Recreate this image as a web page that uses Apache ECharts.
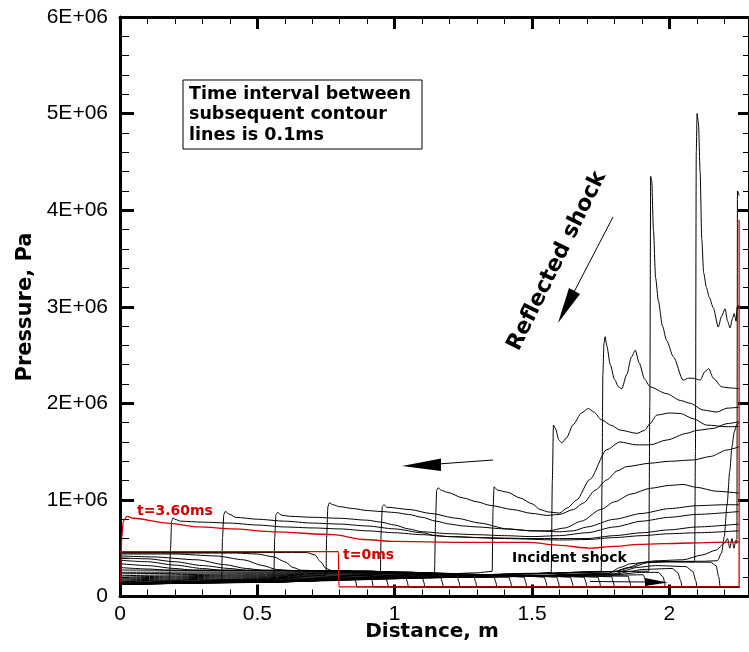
<!DOCTYPE html>
<html><head><meta charset="utf-8">
<script src="https://cdn.jsdelivr.net/npm/echarts@6/dist/echarts.min.js"></script>
<style>html,body{margin:0;padding:0;background:#fff}#c{width:749px;height:652px}</style>
</head><body><div id="c"></div><script>
// ---- tick labels ----
const xTickLabels = {0:'0',0.5:'0.5',1:'1',1.5:'1.5',2:'2'};
const yTickLabels = ['0','1E+06','2E+06','3E+06','4E+06','5E+06','6E+06'];

// ---- pressure profiles: [distance m, pressure in 1E+06 Pa], one per 0.1 ms ----
const t00 = [[0,0.465],[0.795,0.465],[0.797,0.1],[2.254,0.1],[2.254,0.57]];
const t01 = [[0,0.455],[0.68,0.455],[0.71,0.43],[0.73,0.36],[0.75,0.29],[0.77,0.27],[0.84,0.265],[0.852,0.23],[0.858,0.16],[0.862,0.1],[2.254,0.1]];
const t02 = [[0,0.45],[0.42,0.45],[0.5,0.44],[0.56,0.41],[0.6,0.36],[0.63,0.3],[0.66,0.272],[0.72,0.268],[0.9,0.25],[0.912,0.22],[0.918,0.16],[0.922,0.1],[2.254,0.1]];
const t03 = [[0,0.44],[0.2,0.44],[0.35,0.42],[0.45,0.38],[0.52,0.32],[0.57,0.28],[0.62,0.27],[0.93,0.245],[0.967,0.21],[0.973,0.15],[0.977,0.1],[2.254,0.1]];
const t04 = [[0,0.42],[0.12,0.41],[0.28,0.38],[0.38,0.33],[0.46,0.29],[0.52,0.272],[0.9,0.26],[1.0,0.235],[1.04,0.21],[1.046,0.15],[1.05,0.1],[2.254,0.1]];
const t05 = [[0,0.40],[0.1,0.39],[0.2,0.36],[0.3,0.32],[0.4,0.29],[0.46,0.272],[0.9,0.262],[1.05,0.235],[1.1,0.21],[1.106,0.15],[1.11,0.1],[2.254,0.1]];
const t06 = [[0,0.375],[0.1,0.36],[0.2,0.325],[0.3,0.29],[0.37,0.272],[0.9,0.262],[1.1,0.232],[1.167,0.205],[1.173,0.15],[1.177,0.1],[2.254,0.1]];
const t07 = [[0,0.34],[0.1,0.32],[0.2,0.29],[0.27,0.272],[0.9,0.262],[1.15,0.23],[1.228,0.205],[1.234,0.15],[1.238,0.1],[2.254,0.1]];
const t08 = [[0,0.30],[0.1,0.285],[0.18,0.272],[0.9,0.262],[1.2,0.228],[1.289,0.2],[1.295,0.15],[1.299,0.1],[2.254,0.1]];
const t09 = [[0,0.274],[0.5,0.27],[1.0,0.255],[1.28,0.225],[1.362,0.2],[1.368,0.15],[1.372,0.1],[2.254,0.1]];
const t10 = [[0,0.25],[0.4,0.255],[1.0,0.255],[1.33,0.222],[1.416,0.2],[1.422,0.15],[1.426,0.1],[2.254,0.1]];
const t11 = [[0,0.235],[0.5,0.245],[1.05,0.25],[1.38,0.22],[1.471,0.2],[1.477,0.15],[1.481,0.1],[2.254,0.1]];
const t12 = [[0,0.215],[0.5,0.235],[1.1,0.245],[1.45,0.218],[1.545,0.2],[1.551,0.15],[1.555,0.1],[2.254,0.1]];
const t13 = [[0,0.2],[0.5,0.225],[1.1,0.24],[1.5,0.215],[1.59,0.2],[1.596,0.15],[1.6,0.1],[2.254,0.1]];
const t14 = [[0,0.19],[0.5,0.215],[1.15,0.235],[1.55,0.212],[1.64,0.2],[1.646,0.15],[1.65,0.1],[2.254,0.1]];
const t15 = [[0,0.18],[0.5,0.205],[1.2,0.23],[1.6,0.21],[1.69,0.2],[1.696,0.15],[1.7,0.1],[2.254,0.1]];
const t16 = [[0,0.17],[0.5,0.195],[1.2,0.225],[1.65,0.21],[1.74,0.2],[1.746,0.15],[1.75,0.1],[2.254,0.1]];
const t17 = [[0,0.16],[0.5,0.185],[1.25,0.22],[1.7,0.21],[1.79,0.205],[1.796,0.15],[1.8,0.1],[2.254,0.1]];
const t18 = [[0,0.153],[0.5,0.178],[1.3,0.215],[1.76,0.212],[1.85,0.21],[1.856,0.15],[1.86,0.1],[2.254,0.1]];
const t19 = [[0,0.145],[0.5,0.17],[1.3,0.21],[1.8,0.22],[1.905,0.225],[1.915,0.15],[1.92,0.1],[2.254,0.1]];
const t20 = [[0,0.14],[0.5,0.163],[1.3,0.205],[1.8,0.225],[1.9,0.25],[1.96,0.25],[1.978,0.2],[1.983,0.14],[1.985,0.1],[2.254,0.1]];
const t21 = [[0,0.135],[0.5,0.158],[1.3,0.2],[1.8,0.23],[1.86,0.26],[1.9,0.28],[2.01,0.29],[2.03,0.25],[2.042,0.16],[2.046,0.1],[2.254,0.1]];
const t22 = [[0,0.13],[0.5,0.155],[1.3,0.2],[1.8,0.235],[1.84,0.27],[1.88,0.3],[1.95,0.32],[2.06,0.31],[2.085,0.26],[2.097,0.16],[2.1,0.1],[2.254,0.1]];
const t23 = [[0,0.128],[0.5,0.15],[1.3,0.2],[1.78,0.24],[1.82,0.3],[1.86,0.34],[1.93,0.36],[2.15,0.355],[2.17,0.32],[2.18,0.2],[2.185,0.1],[2.254,0.1]];
const t24 = [[0,0.125],[0.5,0.15],[1.0,0.19],[1.5,0.24],[1.8,0.26],[1.85,0.3],[1.9,0.35],[1.95,0.37],[2.05,0.38],[2.12,0.43],[2.17,0.48],[2.2,0.55],[2.212,0.6],[2.22,0.5],[2.228,0.6],[2.235,0.5],[2.242,0.58],[2.246,0.55],[2.248,4.2],[2.254,4.15]];
const wallRise = [[1.95,0.36],[2.12,0.365],[2.175,0.37],[2.19,0.45],[2.2,0.62],[2.21,0.95],[2.22,1.3],[2.228,1.55],[2.236,1.7],[2.245,1.78],[2.254,1.8]];
const t25 = [[0,0.125],[0.5,0.148],[1.0,0.19],[1.5,0.235],[1.8,0.255],[1.86,0.3],[1.92,0.35],[2.0,0.36],[2.092,0.36],[2.095,1.5],[2.098,4.6],[2.101,5.0],[2.106,4.9],[2.112,4.4],[2.118,3.7],[2.125,3.35],[2.135,3.2],[2.145,3.1],[2.16,2.99],[2.178,2.79],[2.19,2.9],[2.203,2.98],[2.212,2.85],[2.221,2.78],[2.23,2.88],[2.236,2.93],[2.243,2.85],[2.247,3.0],[2.254,3.02]];
const t26 = [[0,0.125],[0.5,0.147],[1.0,0.19],[1.5,0.235],[1.8,0.258],[1.925,0.262],[1.929,2.0],[1.932,4.35],[1.936,4.3],[1.942,3.8],[1.95,3.3],[1.96,3.06],[1.975,2.8],[1.99,2.65],[2.015,2.48],[2.05,2.24],[2.07,2.26],[2.088,2.26],[2.112,2.24],[2.13,2.33],[2.143,2.36],[2.16,2.26],[2.191,2.17],[2.22,2.16],[2.254,2.15]];
const t27 = [[0,0.125],[0.5,0.146],[1.0,0.19],[1.5,0.235],[1.752,0.26],[1.755,1.2],[1.758,2.3],[1.762,2.62],[1.766,2.69],[1.772,2.6],[1.785,2.4],[1.8,2.25],[1.815,2.17],[1.827,2.15],[1.845,2.3],[1.862,2.48],[1.876,2.55],[1.89,2.42],[1.91,2.25],[1.93,2.17],[1.99,2.1],[2.04,2.03],[2.076,2.0],[2.124,1.93],[2.173,1.91],[2.21,1.95],[2.254,1.96]];
const t28 = [[0,0.125],[0.5,0.145],[1.0,0.19],[1.5,0.235],[1.57,0.25],[1.574,1.2],[1.578,1.775],[1.585,1.74],[1.598,1.62],[1.608,1.59],[1.625,1.64],[1.65,1.78],[1.68,1.9],[1.705,1.947],[1.725,1.91],[1.754,1.827],[1.79,1.77],[1.821,1.723],[1.882,1.689],[1.91,1.72],[1.93,1.79],[1.954,1.878],[2.0,1.9],[2.04,1.895],[2.088,1.84],[2.136,1.775],[2.21,1.758],[2.254,1.76]];
const t29 = [[0,0.127],[0.5,0.145],[1.0,0.2],[1.3,0.245],[1.355,0.26],[1.358,0.9],[1.362,1.135],[1.375,1.1],[1.41,1.08],[1.457,1.02],[1.5,0.96],[1.53,0.9],[1.56,0.875],[1.6,0.864],[1.63,0.92],[1.663,1.0],[1.71,1.21],[1.772,1.52],[1.82,1.6],[1.88,1.57],[1.93,1.57],[1.99,1.62],[2.064,1.69],[2.1,1.72],[2.16,1.74],[2.21,1.79],[2.254,1.81]];
const t30 = [[0,0.128],[0.5,0.15],[1.0,0.21],[1.145,0.245],[1.149,0.8],[1.153,1.1],[1.158,1.125],[1.17,1.1],[1.19,1.08],[1.25,1.02],[1.3,0.98],[1.347,0.944],[1.43,0.9],[1.5,0.86],[1.555,0.84],[1.6,0.85],[1.65,0.9],[1.687,0.967],[1.73,1.1],[1.772,1.207],[1.81,1.3],[1.845,1.345],[1.93,1.38],[2.0,1.4],[2.088,1.414],[2.15,1.45],[2.21,1.517],[2.254,1.55]];
const t31 = [[0,0.13],[0.5,0.16],[0.9,0.22],[0.948,0.24],[0.951,0.7],[0.955,0.93],[0.96,0.95],[0.972,0.924],[1.056,0.9],[1.13,0.86],[1.227,0.81],[1.31,0.76],[1.41,0.7],[1.5,0.68],[1.56,0.68],[1.62,0.71],[1.68,0.78],[1.75,0.9],[1.8,0.98],[1.86,1.06],[1.93,1.12],[2.0,1.15],[2.05,1.16],[2.1,1.13],[2.17,1.09],[2.254,1.07]];
const t32 = [[0,0.13],[0.5,0.17],[0.75,0.22],[0.752,0.6],[0.757,0.93],[0.762,0.97],[0.775,0.95],[0.8,0.93],[0.85,0.91],[0.9,0.89],[0.95,0.88],[1.0,0.87],[1.05,0.85],[1.1,0.82],[1.15,0.78],[1.2,0.75],[1.25,0.73],[1.3,0.72],[1.4,0.7],[1.5,0.68],[1.6,0.67],[1.65,0.68],[1.7,0.72],[1.8,0.8],[1.9,0.86],[2.0,0.91],[2.1,0.94],[2.2,0.95],[2.254,0.95]];
const t33 = [[0,0.13],[0.3,0.15],[0.56,0.18],[0.563,0.6],[0.568,0.85],[0.573,0.87],[0.59,0.84],[0.62,0.83],[0.7,0.82],[0.8,0.81],[0.9,0.79],[0.95,0.77],[1.0,0.74],[1.05,0.7],[1.1,0.67],[1.2,0.65],[1.3,0.64],[1.4,0.63],[1.5,0.62],[1.6,0.63],[1.7,0.66],[1.8,0.72],[1.9,0.78],[2.0,0.82],[2.1,0.85],[2.254,0.88]];
const t34 = [[0,0.13],[0.2,0.14],[0.37,0.17],[0.373,0.6],[0.378,0.85],[0.383,0.88],[0.4,0.85],[0.42,0.82],[0.5,0.8],[0.6,0.78],[0.7,0.76],[0.8,0.75],[0.9,0.73],[1.0,0.7],[1.1,0.66],[1.15,0.63],[1.2,0.62],[1.3,0.61],[1.5,0.6],[1.7,0.6],[1.8,0.63],[1.9,0.66],[2.0,0.69],[2.1,0.72],[2.254,0.75]];
const t35 = [[0,0.13],[0.18,0.15],[0.184,0.5],[0.188,0.78],[0.193,0.815],[0.2,0.8],[0.22,0.78],[0.3,0.77],[0.4,0.76],[0.5,0.74],[0.6,0.72],[0.7,0.71],[0.8,0.7],[0.9,0.68],[1.0,0.66],[1.1,0.64],[1.2,0.62],[1.4,0.6],[1.6,0.585],[1.7,0.59],[1.8,0.61],[1.9,0.63],[2.0,0.65],[2.1,0.66],[2.254,0.68]];
const t36 = [[0.003,0.145],[0.006,0.6],[0.012,0.78],[0.025,0.83],[0.05,0.81],[0.17,0.76],[0.29,0.72],[0.41,0.7],[0.56,0.67],[0.776,0.64],[0.886,0.59],[1.0,0.57],[1.25,0.56],[1.49,0.56],[1.6,0.53],[1.71,0.5],[1.8,0.52],[1.89,0.54],[2.076,0.554],[2.254,0.565],[2.254,3.9]];

const blackCurves = [t01,t02,t03,t04,t05,t06,t07,t08,t09,t10,t11,t12,t13,t14,t15,t16,t17,t18,t19,t20,t21,t22,t23,t24,wallRise,t25,t26,t27,t28,t29,t30,t31,t32,t33,t34,t35];
const redCurves = [t00,t36];

const RED = '#d80000';
const chart = echarts.init(document.getElementById('c'), null, {renderer:'canvas'});
const toPa = arr => arr.map(p => [p[0], p[1]*1e6]);
const mk = (arr, color, w, z) => ({
  type:'line', data: toPa(arr), showSymbol:false, symbol:'none',
  smooth:0.25, smoothMonotone:'x', clip:true, silent:true, z:z,
  lineStyle:{color:color, width:w}, animation:false
});
const series = blackCurves.map(a => mk(a,'#000',1,2)).concat(redCurves.map(a => mk(a,RED,1.3,3)));

const tickFont = {fontFamily:'Liberation Sans, Arial, sans-serif', fontSize:21, color:'#000'};
const baseX = {type:'value', min:0, max:2.29, splitLine:{show:false}, gridIndex:0};
const baseY = {type:'value', min:0, max:6e6, interval:1e6, splitLine:{show:false}, gridIndex:0};

const option = {
  animation:false,
  backgroundColor:'#fff',
  grid:{left:120, top:17, width:629, height:579.5, containLabel:false},
  xAxis:[
    Object.assign({}, baseX, {position:'bottom', interval:0.5,
      axisLine:{show:true, onZero:false, lineStyle:{color:'#000', width:3}},
      axisTick:{show:true, inside:true, length:12, lineStyle:{color:'#000', width:3}},
      axisLabel:Object.assign({show:true, margin:7, showMaxLabel:false,
        formatter:v => (xTickLabels[v] !== undefined ? xTickLabels[v] : '')}, tickFont)}),
    Object.assign({}, baseX, {position:'bottom', interval:0.1,
      axisLine:{show:false, onZero:false},
      axisTick:{show:true, inside:true, length:7, lineStyle:{color:'#000', width:1}},
      axisLabel:{show:false}}),
    Object.assign({}, baseX, {position:'top', interval:0.5,
      axisLine:{show:true, onZero:false, lineStyle:{color:'#000', width:3}},
      axisTick:{show:true, inside:true, length:12, lineStyle:{color:'#000', width:3}},
      axisLabel:{show:false}}),
    Object.assign({}, baseX, {position:'top', interval:0.1,
      axisLine:{show:false, onZero:false},
      axisTick:{show:true, inside:true, length:7, lineStyle:{color:'#000', width:1}},
      axisLabel:{show:false}})
  ],
  yAxis:[
    Object.assign({}, baseY, {position:'left',
      axisLine:{show:true, onZero:false, lineStyle:{color:'#000', width:3}},
      axisTick:{show:true, inside:true, length:14, lineStyle:{color:'#000', width:3}},
      minorTick:{show:true, splitNumber:5, length:9, lineStyle:{color:'#000', width:1}},
      axisLabel:Object.assign({show:true, margin:12,
        formatter:v => yTickLabels[Math.round(v/1e6)]}, tickFont)}),
    Object.assign({}, baseY, {position:'right',
      axisLine:{show:true, onZero:false, lineStyle:{color:'#000', width:2}},
      axisTick:{show:true, inside:true, length:11, lineStyle:{color:'#000', width:3}},
      minorTick:{show:true, splitNumber:5, length:6, lineStyle:{color:'#000', width:1}},
      axisLabel:{show:false}})
  ],
  series: series
};
chart.setOption(option);

const boldFont = 'DejaVu Sans, sans-serif';
const txt = (x, y, s, size, opts) => Object.assign({
  type:'text', x:x, y:y, z:20, silent:true,
  style:Object.assign({text:s, fontFamily:boldFont, fontWeight:'bold', fontSize:size, fill:'#000', align:'left', verticalAlign:'middle'}, (opts && opts.style) || {})
}, opts && opts.el || {});

chart.setOption({graphic:[
  // text box
  {type:'rect', z:18, shape:{x:183, y:80, width:239, height:69}, style:{fill:'#fff', stroke:'#000', lineWidth:1}},
  txt(189, 94, 'Time interval between', 17.5),
  txt(189, 114.7, 'subsequent contour', 17.5),
  txt(189, 135.4, 'lines is 0.1ms', 17.5),
  // labels
  txt(137, 511, 't=3.60ms', 14, {style:{fill:RED}}),
  txt(343, 555, 't=0ms', 14, {style:{fill:RED}}),
  txt(512, 558, 'Incident shock', 14),
  {type:'text', x:557, y:261, rotation:1.112, z:20, style:{text:'Reflected shock', fontFamily:boldFont, fontWeight:'bold', fontSize:22, fill:'#000', align:'center', verticalAlign:'middle'}},
  // axis titles
  {type:'text', x:432, y:632, z:20, style:{text:'Distance, m', fontFamily:boldFont, fontWeight:'bold', fontSize:20, fill:'#000', align:'center', verticalAlign:'middle'}},
  {type:'text', x:26, y:307, rotation:Math.PI/2, z:20, style:{text:'Pressure, Pa', fontFamily:boldFont, fontWeight:'bold', fontSize:21, fill:'#000', align:'center', verticalAlign:'middle'}},
  // arrows
  {type:'line', z:19, shape:{x1:493, y1:460, x2:438, y2:464}, style:{stroke:'#000', lineWidth:1}},
  {type:'polygon', z:19, shape:{points:[[402,466],[441,458.5],[441,471]]}, style:{fill:'#000'}},
  {type:'line', z:19, shape:{x1:613, y1:217, x2:574, y2:292}, style:{stroke:'#000', lineWidth:1}},
  {type:'polygon', z:19, shape:{points:[[558,323],[580,294],[569,288]]}, style:{fill:'#000'}},
  {type:'line', z:19, shape:{x1:590, y1:581.5, x2:647, y2:582}, style:{stroke:'#000', lineWidth:1}},
  {type:'polygon', z:19, shape:{points:[[668,582.5],[645,578],[645,586]]}, style:{fill:'#000'}}
]});
</script></body></html>
